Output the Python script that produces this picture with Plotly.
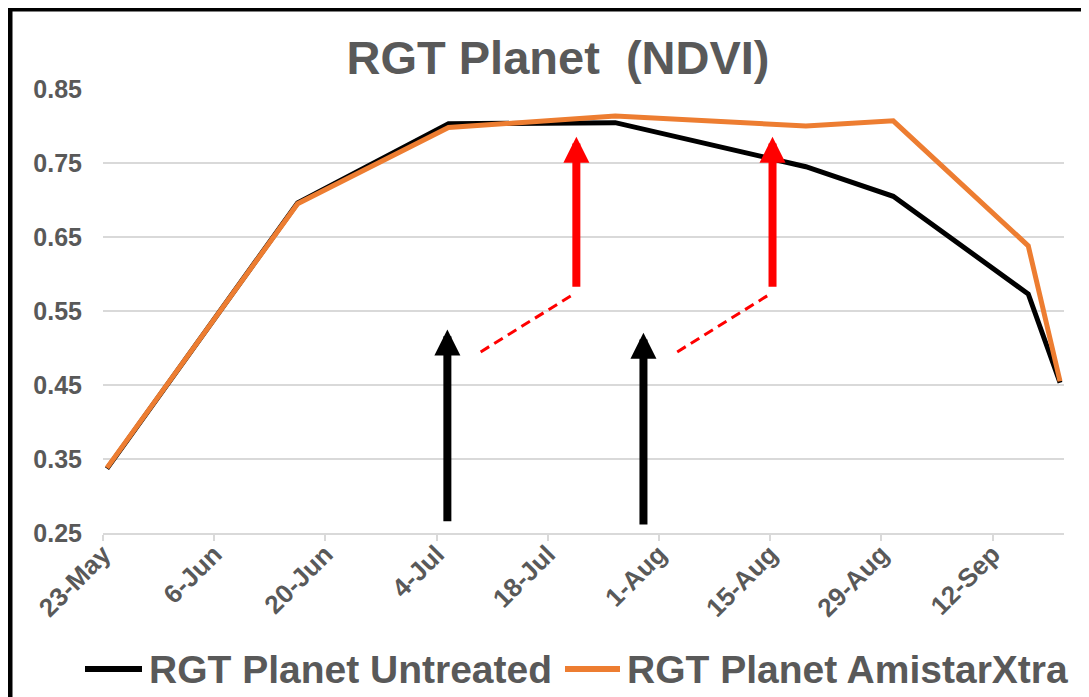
import plotly.graph_objects as go
import pandas as pd

# ---- data ----
dates = ['2021-05-23', '2021-06-16', '2021-07-05', '2021-07-26',
         '2021-08-19', '2021-08-30', '2021-09-16', '2021-09-20']
untreated = [0.337, 0.696, 0.803, 0.8045, 0.745, 0.705, 0.573, 0.453]
amistar = [0.338, 0.695, 0.798, 0.8135, 0.800, 0.807, 0.638, 0.455]
series_names = ['RGT Planet Untreated', 'RGT Planet AmistarXtra']
series_colors = ['#000000', '#ED7D31']
title_text = 'RGT Planet  (NDVI)'

# annotation arrows (day offset from first date, tail value, tip value)
black_arrows = [(43.36, 0.264, 0.525), (68.05, 0.2595, 0.5207)]
red_arrows = [(59.6, 0.5807, 0.7855), (84.3, 0.5807, 0.7855)]
dashed_links = [((47.55, 0.4947), (59.08, 0.5716)), ((72.3, 0.4947), (83.8, 0.5716))]

GREY = '#595959'
FONT = 'Liberation Sans'
start = pd.Timestamp(dates[0])
xs = pd.to_datetime(dates) + pd.Timedelta(hours=12)  # points sit mid-day (between tick marks)


def day(d):
    return start + pd.Timedelta(days=d)


# layout geometry: page has an 8px body margin, so the figure is 8px smaller
OFF = 8
W, H = 1089 - OFF, 697 - OFF
L, T = 103 - OFF, 89 - OFF
R = W - (1064 - OFF)
B = H - (533 - OFF)
pw, ph = W - L - R, H - T - B


def px_x(p):  # screen px -> paper
    return (p - OFF - L) / pw


def px_y(p):
    return (H - B - (p - OFF)) / ph


fig = go.Figure()
for name, vals, col in zip(series_names, [untreated, amistar], series_colors):
    fig.add_trace(go.Scatter(x=xs, y=vals, mode='lines', name=name,
                             line=dict(color=col, width=5), showlegend=False))

annotations = []
for d, tail, tip in black_arrows:
    annotations.append(dict(x=day(d), y=tip, ax=day(d), ay=tail, xref='x', yref='y',
                            axref='x', ayref='y', text='', showarrow=True,
                            arrowhead=2, arrowsize=0.65, arrowwidth=8, arrowcolor='#000000'))
for d, tail, tip in red_arrows:
    annotations.append(dict(x=day(d), y=tip, ax=day(d), ay=tail, xref='x', yref='y',
                            axref='x', ayref='y', text='', showarrow=True,
                            arrowhead=2, arrowsize=0.65, arrowwidth=8, arrowcolor='#FF0000'))

shapes = []
for (d0, v0), (d1, v1) in dashed_links:
    shapes.append(dict(type='line', xref='x', yref='y', x0=day(d0), y0=v0, x1=day(d1), y1=v1,
                       line=dict(color='#FF0000', width=3, dash='10px,6px')))

# manual legend (single row, like the original)
legend_items = [(85, 142, 147), (565, 620, 625)]  # line start, line end, text start (screen px)
legend_y = 669
for (lx0, lx1, tx), name, col in zip(legend_items, series_names, series_colors):
    shapes.append(dict(type='line', xref='paper', yref='paper', x0=px_x(lx0), x1=px_x(lx1),
                       y0=px_y(legend_y), y1=px_y(legend_y),
                       line=dict(color=col, width=6)))
    annotations.append(dict(x=px_x(tx), y=px_y(legend_y), xref='paper', yref='paper',
                            xanchor='left', yanchor='middle', showarrow=False, text=name,
                            font=dict(family=FONT, size=39, color=GREY, weight='bold')))

# figure border (top & left visible)
shapes.append(dict(type='line', xref='paper', yref='paper', x0=px_x(6), x1=px_x(1100),
                    y0=px_y(9.5), y1=px_y(9.5), line=dict(color='#000000', width=4)))
shapes.append(dict(type='line', xref='paper', yref='paper', x0=px_x(10), x1=px_x(10),
                    y0=px_y(7.5), y1=px_y(710), line=dict(color='#000000', width=5)))

fig.update_layout(
    width=W, height=H,
    margin=dict(l=L, r=R, t=T, b=B, autoexpand=False),
    paper_bgcolor='white', plot_bgcolor='white',
    font=dict(family=FONT, color=GREY),
    title=dict(text=title_text, x=550 / W, xanchor='center', y=1 - 50 / H, yanchor='middle',
               font=dict(family=FONT, size=47, color=GREY, weight='bold')),
    xaxis=dict(type='date', range=[start, start + pd.Timedelta(days=121)],
               tick0=start, dtick=14 * 86400000, tickformat='%-d-%b', tickangle=-45,
               showgrid=False, showline=True, linecolor='#D9D9D9', linewidth=1.5,
               ticks='outside', ticklen=6, tickcolor='#D9D9D9', tickwidth=1.5,
               ticklabelstandoff=-12,
               tickfont=dict(family=FONT, size=26, color=GREY, weight='bold')),
    yaxis=dict(range=[0.25, 0.85], tick0=0.25, dtick=0.1, tickformat='.2f',
               showgrid=True, gridcolor='#D9D9D9', gridwidth=1.5, zeroline=False,
               showline=False, ticks='', ticklabelstandoff=20,
               tickfont=dict(family=FONT, size=25, color=GREY, weight='bold')),
    showlegend=False,
    annotations=annotations,
    shapes=shapes,
)

fig.write_html('out.html')
